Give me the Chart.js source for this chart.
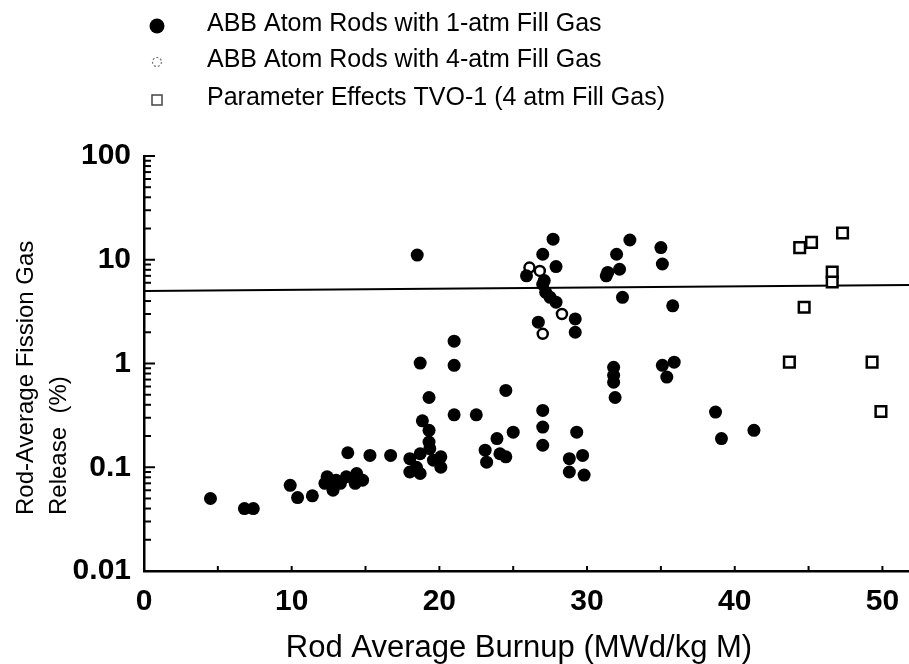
<!DOCTYPE html>
<html>
<head>
<meta charset="utf-8">
<script src="https://cdn.jsdelivr.net/npm/chart.js@4.4.0/dist/chart.umd.min.js"></script>
<style>
  html, body { margin: 0; padding: 0; background: #fff; }
  #wrap { width: 909px; height: 664px; }
</style>
</head>
<body>
<div id="wrap"><canvas id="fgrChart" width="909" height="664"></canvas></div>
<script>
// ABB Atom rods, 1-atm fill gas (filled circles)
const oneAtmBurnup = [4.5, 6.8, 7.4, 9.9, 10.4, 11.4, 12.25, 12.4, 12.8, 13.0, 13.3, 13.7, 14.3, 14.4, 14.8,
  13.8, 15.3, 16.7, 18.0, 18.0, 18.45, 18.7, 18.7, 19.35, 19.6, 20.1, 20.1, 19.3, 19.3, 18.85, 19.3, 18.7, 18.5,
  21.0, 21.0, 21.0, 22.5, 24.5, 23.1, 23.9, 25.0, 24.5, 23.2, 24.1, 27.0, 27.0, 27.0,
  25.9, 27.0, 27.7, 27.9, 27.1, 27.0, 27.2, 27.5, 27.9, 29.2, 29.2, 26.7,
  29.3, 28.8, 29.7, 28.8, 29.8, 32.9, 32.0, 32.2, 31.4, 31.3, 32.4, 35.0, 35.1, 35.8,
  31.8, 31.8, 31.8, 31.9, 35.1, 35.9, 35.4, 38.7, 39.1, 41.3];
const oneAtmRelease = [0.050, 0.040, 0.040, 0.067, 0.051, 0.053, 0.070, 0.081, 0.060, 0.075, 0.070, 0.081, 0.070, 0.087, 0.075,
  0.138, 0.130, 0.130, 0.121, 0.090, 0.100, 0.135, 0.087, 0.151, 0.117, 0.126, 0.100, 0.175, 0.227, 0.28, 0.47, 1.01, 11.1,
  1.64, 0.96, 0.32, 0.32, 0.55, 0.146, 0.189, 0.218, 0.126, 0.112, 0.135, 0.353, 0.244, 0.163,
  7.0, 11.3, 15.8, 8.6, 6.3, 5.8, 4.85, 4.34, 3.9, 2.69, 2.0, 2.5,
  0.218, 0.121, 0.130, 0.090, 0.084, 15.5, 11.3, 8.1, 7.55, 7.0, 4.34, 13.1, 9.1, 3.6,
  0.92, 0.77, 0.66, 0.47, 0.96, 1.03, 0.74, 0.34, 0.189, 0.227];

// ABB Atom rods, 4-atm fill gas (open circles)
const fourAtmBurnup = [26.1, 26.8, 28.3, 27.0];
const fourAtmRelease = [8.4, 7.8, 3.0, 1.93];

// Parameter effects TVO-1 (open squares)
const tvoBurnup = [44.4, 45.2, 47.3, 46.6, 46.6, 44.7, 43.7, 49.3, 49.9];
const tvoRelease = [13.1, 14.7, 18.1, 7.6, 6.1, 3.48, 1.03, 1.03, 0.345];

// horizontal reference line (~5 %)
const refBurnup = [0, 51.8];
const refRelease = [5.0, 5.7];

const legendLabels = [
  'ABB Atom Rods with 1-atm Fill Gas',
  'ABB Atom Rods with 4-atm Fill Gas',
  'Parameter Effects TVO-1 (4 atm Fill Gas)'
];
const xTickLabels = [0, 10, 20, 30, 40, 50];
const xMinorTicks = [5, 10, 15, 20, 25, 30, 35, 40, 45, 50];
const yTickLabels = [0.01, 0.1, 1, 10, 100];
const yMinorSteps = [1, 2, 3, 4, 5, 6, 7, 8, 9];
const xTitle = 'Rod Average Burnup (MWd/kg M)';
const yTitle = ['Rod-Average Fission Gas', 'Release  (%)'];

const toPoints = (xs, ys) => xs.map((x, i) => ({ x: x, y: ys[i] }));

Chart.defaults.font.family = '"Liberation Sans", Arial, sans-serif';
Chart.defaults.color = '#000';

const decor = {
  id: 'decor',
  afterDraw(chart) {
    const { ctx, chartArea } = chart;
    const x = chart.scales.x, y = chart.scales.y;
    ctx.save();
    ctx.strokeStyle = '#000';
    ctx.lineWidth = 2;
    const seg = (x1, y1, x2, y2) => { ctx.beginPath(); ctx.moveTo(x1, y1); ctx.lineTo(x2, y2); ctx.stroke(); };

    // inward ticks on the log axis
    yTickLabels.forEach((dec, k) => {
      const steps = k === yTickLabels.length - 1 ? [1] : yMinorSteps;
      steps.forEach(m => {
        const py = y.getPixelForValue(dec * m);
        seg(chartArea.left, py, chartArea.left + (m === 1 ? 11 : 7), py);
      });
    });
    // inward ticks on the burnup axis
    xMinorTicks.forEach(v => {
      const px = x.getPixelForValue(v);
      seg(px, chartArea.bottom, px, chartArea.bottom - 5);
    });

    ctx.fillStyle = '#000';
    ctx.textBaseline = 'alphabetic';

    // x title
    ctx.font = '31px "Liberation Sans", Arial, sans-serif';
    ctx.textAlign = 'center';
    ctx.fillText(xTitle, 519, 657);

    // y title, two left-aligned rotated lines
    ctx.font = '24px "Liberation Sans", Arial, sans-serif';
    ctx.textAlign = 'left';
    [33, 66].forEach((bx, i) => {
      ctx.save();
      ctx.translate(bx, 515);
      ctx.rotate(-Math.PI / 2);
      ctx.fillText(yTitle[i], 0, 0);
      ctx.restore();
    });

    // legend
    const rows = [26, 62, 100];
    const mx = 157;
    ctx.beginPath();
    ctx.arc(mx, rows[0], 7.5, 0, Math.PI * 2);
    ctx.fill();
    ctx.save();
    ctx.strokeStyle = '#777';
    ctx.lineWidth = 1.2;
    ctx.setLineDash([2, 2]);
    ctx.beginPath();
    ctx.arc(mx, rows[1], 4.5, 0, Math.PI * 2);
    ctx.stroke();
    ctx.restore();
    ctx.save();
    ctx.strokeStyle = '#444';
    ctx.lineWidth = 1.5;
    ctx.strokeRect(mx - 5, rows[2] - 5, 10, 10);
    ctx.restore();

    ctx.font = '25px "Liberation Sans", Arial, sans-serif';
    ctx.textBaseline = 'middle';
    legendLabels.forEach((t, i) => ctx.fillText(t, 207, rows[i] - 2));
    ctx.restore();
  }
};

new Chart(document.getElementById('fgrChart'), {
  type: 'scatter',
  data: {
    datasets: [
      {
        label: legendLabels[0],
        data: toPoints(oneAtmBurnup, oneAtmRelease),
        pointStyle: 'circle',
        pointRadius: 6.5,
        backgroundColor: '#000',
        borderColor: '#000',
        borderWidth: 0
      },
      {
        label: legendLabels[1],
        data: toPoints(fourAtmBurnup, fourAtmRelease),
        pointStyle: 'circle',
        pointRadius: 5,
        backgroundColor: '#fff',
        borderColor: '#000',
        borderWidth: 2.5
      },
      {
        label: legendLabels[2],
        data: toPoints(tvoBurnup, tvoRelease),
        pointStyle: 'rect',
        pointRadius: 7.5,
        backgroundColor: '#fff',
        borderColor: '#000',
        borderWidth: 2.5
      },
      {
        type: 'line',
        label: 'ref',
        data: toPoints(refBurnup, refRelease),
        borderColor: '#000',
        borderWidth: 2,
        pointRadius: 0,
        order: 10
      }
    ]
  },
  options: {
    responsive: false,
    animation: false,
    devicePixelRatio: 1,
    layout: { autoPadding: false, padding: { top: 156, right: 0, bottom: 0, left: 0 } },
    plugins: { legend: { display: false }, tooltip: { enabled: false } },
    scales: {
      x: {
        type: 'linear',
        min: 0,
        max: 51.8,
        afterFit: s => { s.height = 93; s.paddingLeft = 0; s.paddingRight = 0; },
        afterBuildTicks: s => { s.ticks = xTickLabels.map(v => ({ value: v })); },
        grid: { display: false, drawTicks: false },
        border: { display: true, color: '#000', width: 2.5 },
        ticks: { font: { size: 30, weight: 'bold' }, padding: 13, autoSkip: false, maxRotation: 0 }
      },
      y: {
        type: 'logarithmic',
        min: 0.01,
        max: 100,
        afterFit: s => { s.width = 144; s.paddingTop = 0; s.paddingBottom = 0; },
        afterBuildTicks: s => { s.ticks = yTickLabels.map(v => ({ value: v })); },
        grid: { display: false, drawTicks: false },
        border: { display: true, color: '#000', width: 2.5 },
        ticks: {
          font: { size: 30, weight: 'bold' },
          padding: 13,
          autoSkip: false,
          callback: v => String(v)
        }
      }
    }
  },
  plugins: [decor]
});
</script>
</body>
</html>
